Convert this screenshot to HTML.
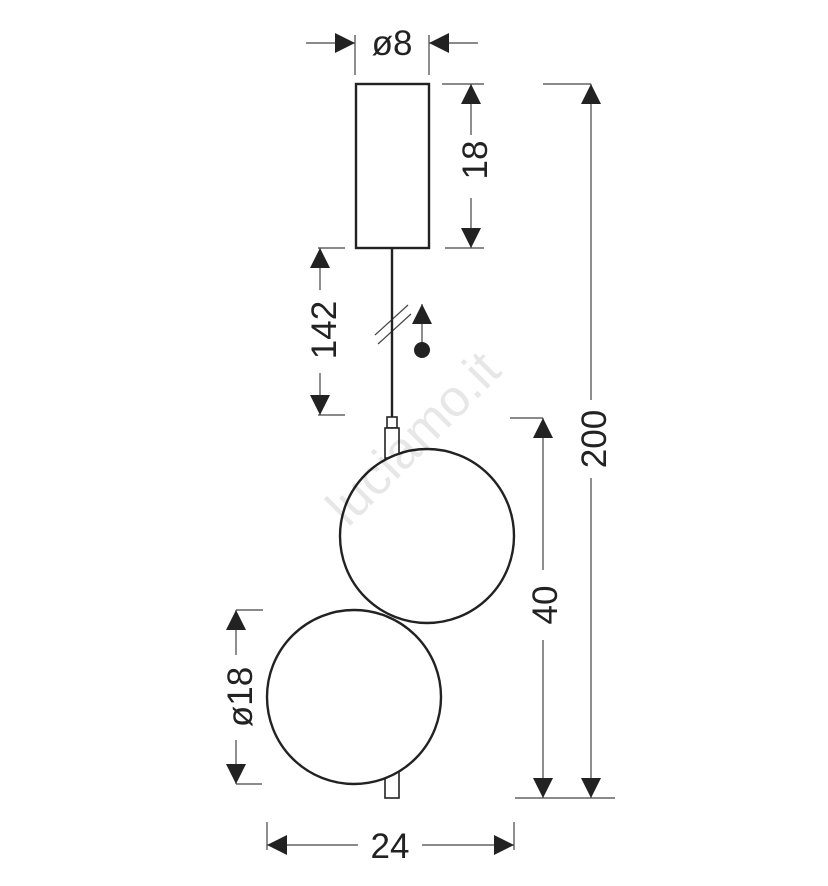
<!DOCTYPE html>
<html><head><style>
html,body{margin:0;padding:0;background:#fff;}
svg{display:block;}
text{font-family:"Liberation Sans",sans-serif;fill:#222;}
</style></head><body>
<svg width="828" height="886" viewBox="0 0 828 886" xmlns="http://www.w3.org/2000/svg">
<defs>
<marker id="a" viewBox="0 0 20 20" refX="20" refY="10" markerWidth="20" markerHeight="20" markerUnits="userSpaceOnUse" orient="auto">
<path d="M0,0 L20,10 L0,20 Z" fill="#222"/></marker>
</defs>
<g stroke="#444" stroke-width="1.2" fill="none">
<line x1="355" y1="35" x2="355" y2="75"/><line x1="429" y1="35" x2="429" y2="75"/>
<line x1="306" y1="43" x2="355" y2="43" marker-end="url(#a)"/>
<line x1="478" y1="43" x2="429" y2="43" marker-end="url(#a)"/>
<line x1="442" y1="84" x2="484" y2="84"/><line x1="445" y1="248" x2="484" y2="248"/>
<line x1="471" y1="135" x2="471" y2="84" marker-end="url(#a)"/>
<line x1="471" y1="198" x2="471" y2="248" marker-end="url(#a)"/>
<line x1="543" y1="84" x2="591" y2="84"/><line x1="515" y1="798" x2="615" y2="798"/>
<line x1="591" y1="400" x2="591" y2="84" marker-end="url(#a)"/>
<line x1="591" y1="478" x2="591" y2="798" marker-end="url(#a)"/>
<line x1="510" y1="418" x2="543" y2="418"/>
<line x1="543" y1="570" x2="543" y2="418" marker-end="url(#a)"/>
<line x1="543" y1="640" x2="543" y2="798" marker-end="url(#a)"/>
<line x1="318" y1="248" x2="345" y2="248"/><line x1="318" y1="415" x2="345" y2="415"/>
<line x1="320" y1="290" x2="320" y2="248" marker-end="url(#a)"/>
<line x1="320" y1="373" x2="320" y2="415" marker-end="url(#a)"/>
<line x1="236" y1="610" x2="263" y2="610"/><line x1="236" y1="784" x2="262" y2="784"/>
<line x1="236" y1="655" x2="236" y2="610" marker-end="url(#a)"/>
<line x1="236" y1="740" x2="236" y2="784" marker-end="url(#a)"/>
<line x1="267" y1="822" x2="267" y2="850"/><line x1="514" y1="822" x2="514" y2="850"/>
<line x1="358" y1="845" x2="267" y2="845" marker-end="url(#a)"/>
<line x1="422" y1="845" x2="514" y2="845" marker-end="url(#a)"/>
<line x1="422" y1="345" x2="422" y2="304" marker-end="url(#a)"/>
<line x1="375" y1="335" x2="408" y2="305"/><line x1="378" y1="344" x2="411" y2="314"/>
</g>
<circle cx="422" cy="350" r="8" fill="#222"/>
<g stroke="#222" stroke-width="2.4" fill="#fff">
<rect x="356" y="84" width="73" height="164"/>
<line x1="392" y1="248" x2="392" y2="417"/>
<rect x="387" y="417" width="10" height="11" stroke-width="1.6"/>
<rect x="385" y="428" width="14" height="30" stroke-width="1.6"/>
<rect x="385" y="770" width="14" height="28" stroke-width="1.6"/>
<circle cx="427" cy="536" r="87"/>
<circle cx="354" cy="697" r="87"/>
</g>
<text x="415" y="455" font-size="52" style="fill:#000;opacity:0.09" transform="rotate(-45 415 440)" text-anchor="middle">luciamo.it</text>
<g font-size="35">
<text x="392" y="55" text-anchor="middle">ø8</text>
<text x="390" y="858" text-anchor="middle">24</text>
<text transform="translate(487 160) rotate(-90)" text-anchor="middle">18</text>
<text transform="translate(606 439) rotate(-90)" text-anchor="middle">200</text>
<text transform="translate(557 605) rotate(-90)" text-anchor="middle">40</text>
<text transform="translate(336 330) rotate(-90)" text-anchor="middle">142</text>
<text transform="translate(252 697) rotate(-90)" text-anchor="middle">ø18</text>
</g>
</svg>
</body></html>
